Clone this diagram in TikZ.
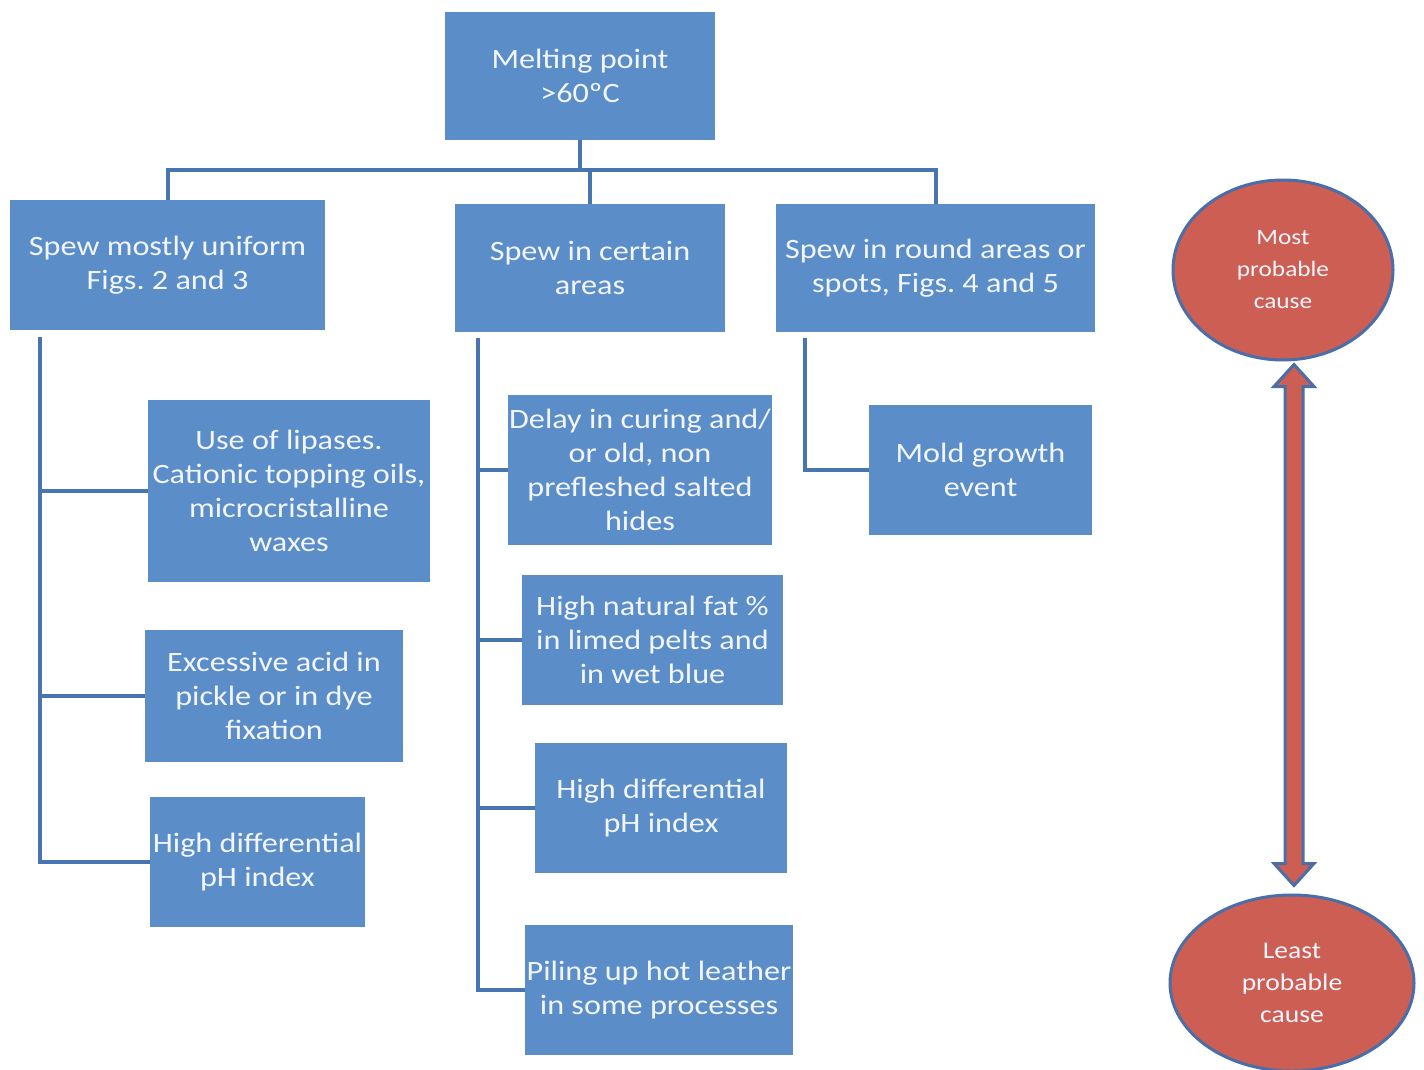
\documentclass[tikz,border=0pt]{standalone}
\usepackage{fontspec}
\setmainfont{Carlito}[FakeStretch=1.15]
\usepackage{tikz}
\usetikzlibrary{shapes.geometric, arrows.meta, positioning, calc}

\definecolor{boxblue}{RGB}{91,141,201}
\definecolor{lineblue}{RGB}{72,116,176}
\definecolor{causered}{RGB}{205,94,84}
\definecolor{rimblue}{RGB}{74,110,168}
\definecolor{paper}{RGB}{242,246,252}
\frenchspacing

\begin{document}
\begin{tikzpicture}[x=1pt, y=-1pt,
    box/.style={rectangle, fill=boxblue, inner sep=0pt, align=center,
        text=paper, font=\fontsize{28}{34}\selectfont},
    cause/.style={ellipse, fill=causered, draw=rimblue, line width=3pt,
        inner sep=0pt, align=center, text=paper},
    conn/.style={draw=lineblue, line width=4pt}]
          \useasboundingbox (0,0) rectangle (1424,1070);

          % top and first level
          \node[box, minimum width=270pt, minimum height=128pt] (melt) at (580,76)
              {Melting point\\>60ºC};
          \node[box, minimum width=315pt, minimum height=130pt] (uniform) at (167.5,265)
              {Spew mostly uniform\\Figs. 2 and 3};
          \node[box, minimum width=270pt, minimum height=128pt] (areas) at (590,268)
              {Spew in certain\\areas};
          \node[box, minimum width=319pt, minimum height=128pt] (spots) at (935.5,268)
              {Spew in round areas or\\spots, Figs. 4 and 5};

          % causes, left column
          \node[box, minimum width=282pt, minimum height=182pt] (lipase) at (289,491)
              {Use of lipases.\\Cationic topping oils,\\microcristalline\\waxes};
          \node[box, minimum width=258pt, minimum height=132pt] (acid) at (274,696)
              {Excessive acid in\\pickle or in dye\\fixation};
          \node[box, minimum width=215pt, minimum height=130pt] (phleft) at (257.5,862)
              {High differential\\pH index};

          % causes, middle column
          \node[box, minimum width=264pt, minimum height=150pt] (curing) at (640,470)
              {Delay in curing and/\\or old, non\\prefleshed salted\\hides};
          \node[box, minimum width=261pt, minimum height=130pt] (fat) at (652.5,640)
              {High natural fat \%\\in limed pelts and\\in wet blue};
          \node[box, minimum width=252pt, minimum height=130pt] (phmid) at (661,808)
              {High differential\\pH index};
          \node[box, minimum width=268pt, minimum height=130pt] (piling) at (659,990)
              {Piling up hot leather\\in some processes};

          % causes, right column
          \node[box, minimum width=223pt, minimum height=130pt] (mold) at (980.5,470)
              {Mold growth\\event};

          % tree lines
          \draw[conn] (melt.south) -- ++(0,30) coordinate (hub);
          \draw[conn] (hub) -| (uniform.north);
          \draw[conn] (hub) -| (areas.north);
          \draw[conn] (hub) -| (spots.north);

          \coordinate (spineL) at ([shift={(30,7)}]uniform.south west);
          \coordinate (spineM) at ([shift={(23,6)}]areas.south west);
          \coordinate (spineR) at ([shift={(29,6)}]spots.south west);
          \foreach \n in {lipase, acid, phleft}
              \draw[conn] (spineL) |- (\n.west);
          \foreach \n in {curing, fat, phmid, piling}
              \draw[conn] (spineM) |- (\n.west);
          \draw[conn] (spineR) |- (mold.west);

          % probability scale
          \node[cause, minimum width=220pt, minimum height=180pt,
              font=\fontsize{22}{32}\selectfont] (most) at (1283,270)
              {Most\\probable\\cause};
          \node[cause, minimum width=244pt, minimum height=176pt,
              font=\fontsize{24}{32}\selectfont] (least) at (1292,983)
              {Least\\probable\\cause};

          \coordinate (tipU) at ($(most.south)+(11,3)$);
          \coordinate (tipD) at ($(least.north)+(2,-8)$);
          \draw[fill=causered, draw=rimblue, line width=3pt, line join=miter]
              (tipU) -- ++(20,22) -- ++(-11,0) |- ($(tipD)+(9,-22)$)
              -- ++(11,0) -- (tipD) -- ++(-20,-22) -- ++(11,0)
              |- ($(tipU)+(-9,22)$) -- ++(-11,0) -- cycle;
      \end{tikzpicture}
\end{document}
